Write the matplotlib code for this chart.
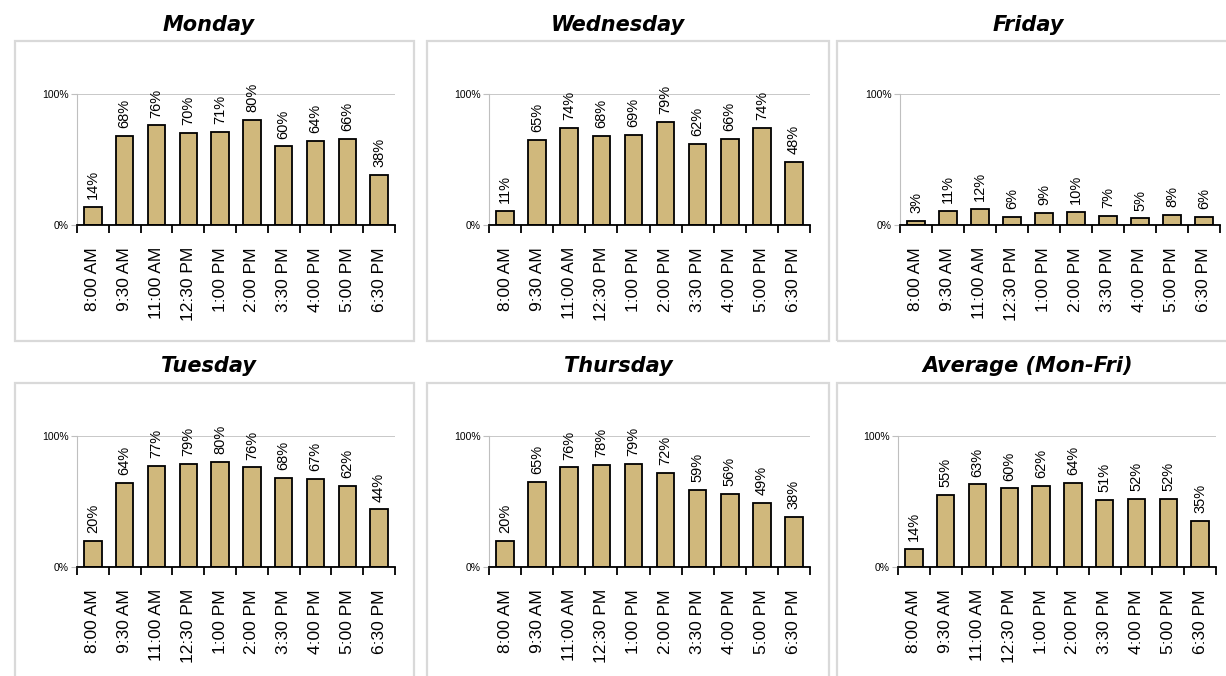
import matplotlib
matplotlib.use('Agg')
import matplotlib.pyplot as plt
from matplotlib.patches import Rectangle
import numpy as np

times = ['8:00 AM', '9:30 AM', '11:00 AM', '12:30 PM', '1:00 PM',
         '2:00 PM', '3:30 PM', '4:00 PM', '5:00 PM', '6:30 PM']

monday = [14, 68, 76, 70, 71, 80, 60, 64, 66, 38]
tuesday = [20, 64, 77, 79, 80, 76, 68, 67, 62, 44]
wednesday = [11, 65, 74, 68, 69, 79, 62, 66, 74, 48]
thursday = [20, 65, 76, 78, 79, 72, 59, 56, 49, 38]
friday = [3, 11, 12, 6, 9, 10, 7, 5, 8, 6]
average = [14, 55, 63, 60, 62, 64, 51, 52, 52, 35]

W, H = 1226, 676
fig = plt.figure(figsize=(W / 100, H / 100), dpi=100)

sans = ['Liberation Sans', 'DejaVu Sans']
bar_color = '#D0B87C'
grid_gray = '#BFBFBF'

# (title, values, axes left/right px, axes top/bottom px, box left/right px, box top/bottom px, title x, title y)
panels = [
    ('Monday', monday, (77, 395), (94, 225), (15, 414), (41, 341), 209, 25),
    ('Wednesday', wednesday, (489, 810), (94, 225), (427, 829), (41, 341), 618, 25),
    ('Friday', friday, (900, 1220), (94, 225), (837, 1232), (41, 341), 1028, 25),
    ('Tuesday', tuesday, (77, 395), (436, 567), (15, 414), (383, 682), 209, 366),
    ('Thursday', thursday, (489, 810), (436, 567), (427, 829), (383, 682), 618, 366),
    ('Average (Mon-Fri)', average, (898, 1216), (436, 567), (837, 1232), (383, 682), 1028, 366),
]

for title, vals, (xl, xr), (yt, yb), (bl, br), (bt, bb), tx, ty in panels:
    # panel border
    fig.patches.append(Rectangle((bl / W, 1 - bb / H), (br - bl) / W, (bb - bt) / H,
                                 transform=fig.transFigure, fill=False,
                                 edgecolor='#D9D9D9', linewidth=1.6, zorder=0))
    fig.text(tx / W, 1 - ty / H, title, ha='center', va='center',
             fontsize=15, fontweight='bold', fontstyle='italic', family='DejaVu Sans')

    ax = fig.add_axes([xl / W, 1 - yb / H, (xr - xl) / W, (yb - yt) / H])
    x = np.arange(len(vals))
    ax.bar(x, vals, width=0.55, color=bar_color, edgecolor='black', linewidth=1.3, zorder=3)
    for xi, v in zip(x, vals):
        ax.text(xi, v + 6, f'{v}%', rotation=90, ha='center', va='bottom',
                fontsize=10.5, family=sans, clip_on=False)

    ax.set_xlim(-0.5, len(vals) - 0.5)
    ax.set_ylim(0, 100)
    ax.set_yticks([0, 100])
    ax.set_yticklabels(['0%', '100%'], family=sans, fontsize=7.5)
    ax.yaxis.grid(True, color=grid_gray, linewidth=1.2, zorder=0)
    ax.tick_params(axis='y', length=4, color=grid_gray, pad=2)

    ax.set_xticks(x)
    ax.set_xticklabels(times, rotation=90, family=sans, fontsize=12.5, va='top')
    ax.set_xticks(np.arange(len(vals) + 1) - 0.5, minor=True)
    ax.tick_params(axis='x', which='major', length=0, pad=16)
    ax.tick_params(axis='x', which='minor', length=6, width=1.3, color='black')

    for s in ['top', 'right']:
        ax.spines[s].set_visible(False)
    ax.spines['left'].set_color(grid_gray)
    ax.spines['bottom'].set_color('black')
    ax.spines['bottom'].set_linewidth(1.3)
    ax.spines['bottom'].set_zorder(4)

fig.savefig('out.png', dpi=100)
